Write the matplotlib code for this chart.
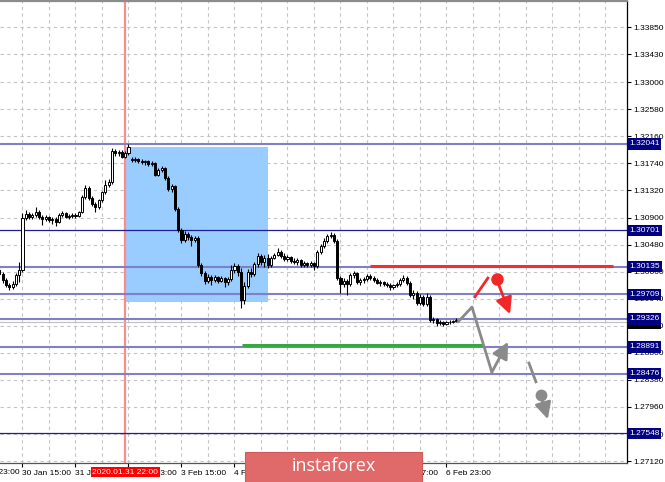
import numpy as np
import matplotlib
matplotlib.use("Agg")
import matplotlib.pyplot as plt
from matplotlib.patches import Rectangle

plt.rcParams['font.family'] = ['Liberation Sans Narrow', 'Liberation Sans', 'DejaVu Sans']

# GBPUSD H1 candles, bar 1 .. 139
opens = [1.3009, 1.3002, 1.2993, 1.2985, 1.2982, 1.2987, 1.3001, 1.3009, 1.3089, 1.3096,
         1.3091, 1.3094, 1.3099, 1.3091, 1.3088, 1.3091, 1.3086, 1.3088, 1.3083, 1.3094,
         1.3097, 1.3091, 1.3092, 1.3094, 1.3092, 1.3099, 1.3122, 1.3136, 1.3120, 1.3111,
         1.3106, 1.3117, 1.3130, 1.3140, 1.3145, 1.3193, 1.3190, 1.3192, 1.3184, 1.3190,
         1.3181, 1.3179, 1.3181, 1.3178, 1.3176, 1.3178, 1.3173, 1.3175, 1.3156, 1.3164,
         1.3167, 1.3151, 1.3134, 1.3139, 1.3103, 1.3071, 1.3055, 1.3064, 1.3060, 1.3055,
         1.3058, 1.3016, 1.3004, 1.2991, 1.2998, 1.2993, 1.2998, 1.2991, 1.2996, 1.2990,
         1.2995, 1.3009, 1.3015, 1.3005, 1.2962, 1.2984, 1.3005, 1.3002, 1.3018, 1.3030,
         1.3021, 1.3027, 1.3016, 1.3027, 1.3032, 1.3036, 1.3030, 1.3026, 1.3029, 1.3023,
         1.3021, 1.3024, 1.3016, 1.3019, 1.3016, 1.3019, 1.3015, 1.3036, 1.3046, 1.3054,
         1.3061, 1.3063, 1.3054, 1.2996, 1.2987, 1.2991, 1.2987, 1.3001, 1.3004, 1.2990,
         1.2993, 1.2995, 1.2999, 1.2996, 1.2993, 1.2988, 1.2990, 1.2987, 1.2985, 1.2982,
         1.2985, 1.2987, 1.2993, 1.2996, 1.2988, 1.2970, 1.2973, 1.2957, 1.2967, 1.2956,
         1.2967, 1.2931, 1.2932, 1.2926, 1.2928, 1.2924, 1.2928, 1.2928, 1.2929]
closes = [1.3002, 1.2993, 1.2985, 1.2982, 1.2987, 1.3001, 1.3009, 1.3089, 1.3096, 1.3091,
          1.3094, 1.3099, 1.3091, 1.3088, 1.3091, 1.3086, 1.3088, 1.3083, 1.3094, 1.3097,
          1.3091, 1.3092, 1.3094, 1.3092, 1.3099, 1.3122, 1.3136, 1.3120, 1.3111, 1.3106,
          1.3117, 1.3130, 1.3140, 1.3145, 1.3193, 1.3190, 1.3192, 1.3184, 1.3190, 1.3199,
          1.3179, 1.3181, 1.3178, 1.3176, 1.3178, 1.3173, 1.3175, 1.3156, 1.3164, 1.3167,
          1.3151, 1.3134, 1.3139, 1.3103, 1.3071, 1.3055, 1.3064, 1.3060, 1.3055, 1.3058,
          1.3016, 1.3004, 1.2991, 1.2998, 1.2993, 1.2998, 1.2991, 1.2996, 1.2990, 1.2995,
          1.3009, 1.3015, 1.3005, 1.2962, 1.2984, 1.3005, 1.3002, 1.3018, 1.3030, 1.3021,
          1.3027, 1.3016, 1.3027, 1.3032, 1.3036, 1.3030, 1.3026, 1.3029, 1.3023, 1.3021,
          1.3024, 1.3016, 1.3019, 1.3016, 1.3019, 1.3015, 1.3036, 1.3046, 1.3054, 1.3061,
          1.3063, 1.3054, 1.2996, 1.2987, 1.2991, 1.2987, 1.3001, 1.3004, 1.2990, 1.2993,
          1.2995, 1.2999, 1.2996, 1.2993, 1.2988, 1.2990, 1.2987, 1.2985, 1.2982, 1.2985,
          1.2987, 1.2993, 1.2996, 1.2988, 1.2970, 1.2973, 1.2957, 1.2967, 1.2956, 1.2967,
          1.2931, 1.2932, 1.2926, 1.2928, 1.2924, 1.2928, 1.2928, 1.2929, 1.2931]
highs = [1.3015, 1.3005, 1.2996, 1.2988, 1.2991, 1.3004, 1.3021, 1.3097, 1.3102, 1.3099,
         1.3097, 1.3106, 1.3102, 1.3094, 1.3094, 1.3092, 1.3091, 1.3091, 1.3097, 1.3100,
         1.3099, 1.3096, 1.3097, 1.3097, 1.3100, 1.3125, 1.3140, 1.3139, 1.3123, 1.3114,
         1.3119, 1.3131, 1.3148, 1.3150, 1.3198, 1.3196, 1.3195, 1.3195, 1.3193, 1.3204,
         1.3184, 1.3184, 1.3182, 1.3181, 1.3179, 1.3179, 1.3178, 1.3176, 1.3167, 1.3170,
         1.3168, 1.3154, 1.3142, 1.3140, 1.3106, 1.3074, 1.3069, 1.3067, 1.3063, 1.3061,
         1.3061, 1.3019, 1.3007, 1.3002, 1.3001, 1.3001, 1.2999, 1.2999, 1.2998, 1.2998,
         1.3016, 1.3019, 1.3018, 1.3012, 1.2990, 1.3010, 1.3012, 1.3021, 1.3035, 1.3033,
         1.3032, 1.3033, 1.3030, 1.3035, 1.3043, 1.3040, 1.3035, 1.3032, 1.3030, 1.3027,
         1.3027, 1.3026, 1.3023, 1.3021, 1.3023, 1.3021, 1.3040, 1.3049, 1.3058, 1.3064,
         1.3067, 1.3066, 1.3057, 1.2999, 1.2996, 1.2995, 1.3004, 1.3007, 1.3005, 1.2996,
         1.2998, 1.3002, 1.3002, 1.2999, 1.2996, 1.2993, 1.2991, 1.2990, 1.2988, 1.2987,
         1.2990, 1.2996, 1.3001, 1.2999, 1.2991, 1.2977, 1.2976, 1.2971, 1.2970, 1.2973,
         1.2970, 1.2935, 1.2934, 1.2931, 1.2929, 1.2929, 1.2931, 1.2931, 1.2934]
lows = [1.2999, 1.2988, 1.2982, 1.2977, 1.2979, 1.2984, 1.2990, 1.3005, 1.3086, 1.3088,
        1.3088, 1.3091, 1.3088, 1.3078, 1.3085, 1.3083, 1.3080, 1.3077, 1.3082, 1.3091,
        1.3089, 1.3088, 1.3089, 1.3089, 1.3091, 1.3097, 1.3119, 1.3117, 1.3108, 1.3099,
        1.3103, 1.3114, 1.3127, 1.3137, 1.3142, 1.3185, 1.3185, 1.3182, 1.3182, 1.3187,
        1.3176, 1.3176, 1.3175, 1.3173, 1.3171, 1.3170, 1.3170, 1.3154, 1.3154, 1.3161,
        1.3148, 1.3131, 1.3130, 1.3100, 1.3067, 1.3050, 1.3052, 1.3055, 1.3046, 1.3052,
        1.3013, 1.2999, 1.2987, 1.2988, 1.2985, 1.2990, 1.2988, 1.2990, 1.2982, 1.2985,
        1.2991, 1.3004, 1.2999, 1.2950, 1.2956, 1.2981, 1.2998, 1.2999, 1.3013, 1.3016,
        1.3013, 1.3012, 1.3013, 1.3026, 1.3030, 1.3027, 1.3023, 1.3023, 1.3019, 1.3018,
        1.3016, 1.3013, 1.3013, 1.3013, 1.3013, 1.3009, 1.3012, 1.3033, 1.3043, 1.3050,
        1.3058, 1.3050, 1.2993, 1.2973, 1.2982, 1.2970, 1.2984, 1.2996, 1.2987, 1.2985,
        1.2988, 1.2991, 1.2993, 1.2990, 1.2987, 1.2984, 1.2984, 1.2982, 1.2977, 1.2979,
        1.2982, 1.2984, 1.2990, 1.2985, 1.2967, 1.2964, 1.2954, 1.2954, 1.2953, 1.2953,
        1.2928, 1.2926, 1.2921, 1.2923, 1.2921, 1.2923, 1.2924, 1.2926, 1.2928]

# price scale and marked levels
price_ticks = [1.33850, 1.33430, 1.33000, 1.32580, 1.32160, 1.31740, 1.31320, 1.30900,
               1.30480, 1.30060, 1.29640, 1.29220, 1.28800, 1.28380, 1.27960, 1.27540, 1.27120]
levels = [1.32041, 1.30701, 1.30135, 1.29709, 1.29326, 1.28891, 1.28476, 1.27548]
level_dark = [False, True, False, False, False, False, False, True]
bid_price = 1.2928

# time axis (bar numbers)
time_bars = [8, 24, 40, 56, 72, 88, 104, 120, 136]
time_labels = ['30 Jan 15:00', '31 Jan 07:00', '31 Jan 23:00', '3 Feb 15:00',
               '4 Feb 07:00', '4 Feb 23:00', '5 Feb 15:00', '6 Feb 07:00', '6 Feb 23:00']
first_bar, first_label = -8, '29 Jan 23:00'
marker_bar = 39
marker_label = '2020.01.31 22:00'

# drawn zone and forecast
zone = (38.9, 82.1, 1.2959, 1.3200)
resist = (112.9, 186.3, 1.3014)
support = (74.3, 147.0, 1.2892)
gray_path_x = [139.5, 143.7, 149.7]
gray_path_y = [1.2928, 1.2951, 1.2850]
gray_arrow = (149.7, 1.2850, 154.6, 1.2897)
red_seg = (144.6, 1.2967, 148.5, 1.2996)
red_dot = (151.2, 1.2994)
red_arrow = (151.6, 1.2988, 155.2, 1.2940)
gray_seg = (160.9, 1.2864, 163.0, 1.2835)
gray_dot = (164.5, 1.2815)
gray_arrow2 = (164.8, 1.2808, 166.6, 1.2777)

W, H = 665, 482
fig = plt.figure(figsize=(W / 100, H / 100), dpi=100)
ax = fig.add_axes([0, (H - 463) / H, 627 / W, (463 - 1) / H])

# grid
for gx in range(0, 192, 8):
    ax.axvline(gx, color='#c4c4c4', lw=0.8, ls=(0, (3, 3)), zorder=0)
for gy in price_ticks:
    ax.axhline(gy, color='#c4c4c4', lw=0.8, ls=(0, (3, 3)), zorder=0)

ax.add_patch(Rectangle((zone[0], zone[2]), zone[1] - zone[0], zone[3] - zone[2],
                       facecolor='#99ccff', edgecolor='none', zorder=1))

ax.axvline(marker_bar, color='#ff8a8a', lw=1.6, zorder=1.5)

for lv, dark in zip(levels, level_dark):
    if dark:
        ax.axhline(lv, color='#1e1e96', lw=0.9, zorder=2)
    else:
        ax.axhline(lv, color='#8080c8', lw=1.5, zorder=2)
ax.axhline(bid_price, color='#c0c0c0', lw=0.8, zorder=2)

ax.hlines(resist[2], resist[0], resist[1], color='#f03030', lw=2.2, zorder=3)
ax.hlines(support[2], support[0], support[1], color='#35a845', lw=2.2, zorder=3)

# candles
bars = np.arange(1, len(closes) + 1)
o = np.array(opens)
c = np.array(closes)
ax.vlines(bars, lows, highs, color='black', lw=0.8, zorder=4)
up = c >= o
body_lo = np.minimum(o, c)
body_h = np.maximum(np.abs(c - o), 0.00004)
ax.bar(bars[up], body_h[up], bottom=body_lo[up], width=0.62, color='white',
       edgecolor='black', linewidth=0.7, zorder=5)
ax.bar(bars[~up], body_h[~up], bottom=body_lo[~up], width=0.62, color='black',
       edgecolor='black', linewidth=0.7, zorder=5)

# forecast drawing
ax.plot(gray_path_x, gray_path_y, color='#8a8a8a', lw=2.0, solid_capstyle='round', zorder=6)
arrow_kw = dict(arrowstyle='-|>,head_length=0.9,head_width=0.45', lw=2.0,
                shrinkA=0, shrinkB=0, mutation_scale=11)
ax.annotate('', xy=gray_arrow[2:], xytext=gray_arrow[:2],
            arrowprops=dict(color='#8a8a8a', **arrow_kw), zorder=6)
ax.plot(red_seg[0::2], red_seg[1::2], color='#f02828', lw=2.0, zorder=6)
ax.plot(*red_dot, 'o', color='#f02828', ms=8, zorder=6)
ax.annotate('', xy=red_arrow[2:], xytext=red_arrow[:2],
            arrowprops=dict(color='#f02828', **arrow_kw), zorder=6)
ax.plot(gray_seg[0::2], gray_seg[1::2], color='#8a8a8a', lw=2.0, zorder=6)
ax.plot(*gray_dot, 'o', color='#8a8a8a', ms=7.5, zorder=6)
ax.annotate('', xy=gray_arrow2[2:], xytext=gray_arrow2[:2],
            arrowprops=dict(color='#8a8a8a', **arrow_kw), zorder=6)

# axes look
ax.yaxis.tick_right()
ax.set_yticks(price_ticks)
ax.set_yticklabels(['%.5f' % p for p in price_ticks])
ax.set_xticks(time_bars)
ax.set_xticklabels(time_labels, ha='left')
# limits after the ticks, set_ticks widens the view otherwise
ax.set_xlim(1.21, 190.5)
ax.set_ylim(1.27090, 1.34260)
ax.tick_params(axis='both', labelsize=6.0, length=3, width=0.8, color='black')
ax.tick_params(axis='y', pad=1.5)
ax.tick_params(axis='x', pad=2)
ax.spines['left'].set_visible(False)
ax.spines['top'].set_color('#8c8c8c')
ax.spines['top'].set_linewidth(1.6)
ax.spines['right'].set_linewidth(0.9)
ax.spines['bottom'].set_linewidth(0.9)
ax.spines['bottom'].set_color('#555555')

xtr = ax.get_xaxis_transform()
# label of a bar left of the view, only its tail shows
ax.text(first_bar + 0.6, -0.0195, first_label, transform=xtr, ha='left', va='center',
        fontsize=6.0, clip_on=False)

ytr = ax.get_yaxis_transform()
for lv in levels:
    ax.text(1.003, lv, '%.5f' % lv, transform=ytr, ha='left', va='center', color='white',
            fontsize=6.0, clip_on=False, zorder=10,
            bbox=dict(boxstyle='square,pad=0.25', fc='#000080', ec='none'))
ax.text(1.003, bid_price - 0.0002, '1.29281', transform=ytr, ha='left', va='center',
        color='white', fontsize=6.0, clip_on=False, zorder=9,
        bbox=dict(boxstyle='square,pad=0.25', fc='black', ec='none'))

ax.text(marker_bar, -0.0195, marker_label, transform=xtr, ha='center', va='center',
        color='white', fontsize=6.0, clip_on=False, zorder=10,
        bbox=dict(boxstyle='square,pad=0.2', fc='#ff0000', ec='none'))

# watermark banner
fig.patches.append(Rectangle((245 / W, 0), 177 / W, 30 / H, transform=fig.transFigure,
                             facecolor='#e06a6a', edgecolor='#d05a5a', lw=0.8, zorder=20))
fig.text(333.5 / W, 16 / H, 'instaforex', ha='center', va='center', color='white',
         fontsize=13, family=['Open Sans', 'DejaVu Sans'], zorder=21)

fig.savefig('out.png', dpi=100)
